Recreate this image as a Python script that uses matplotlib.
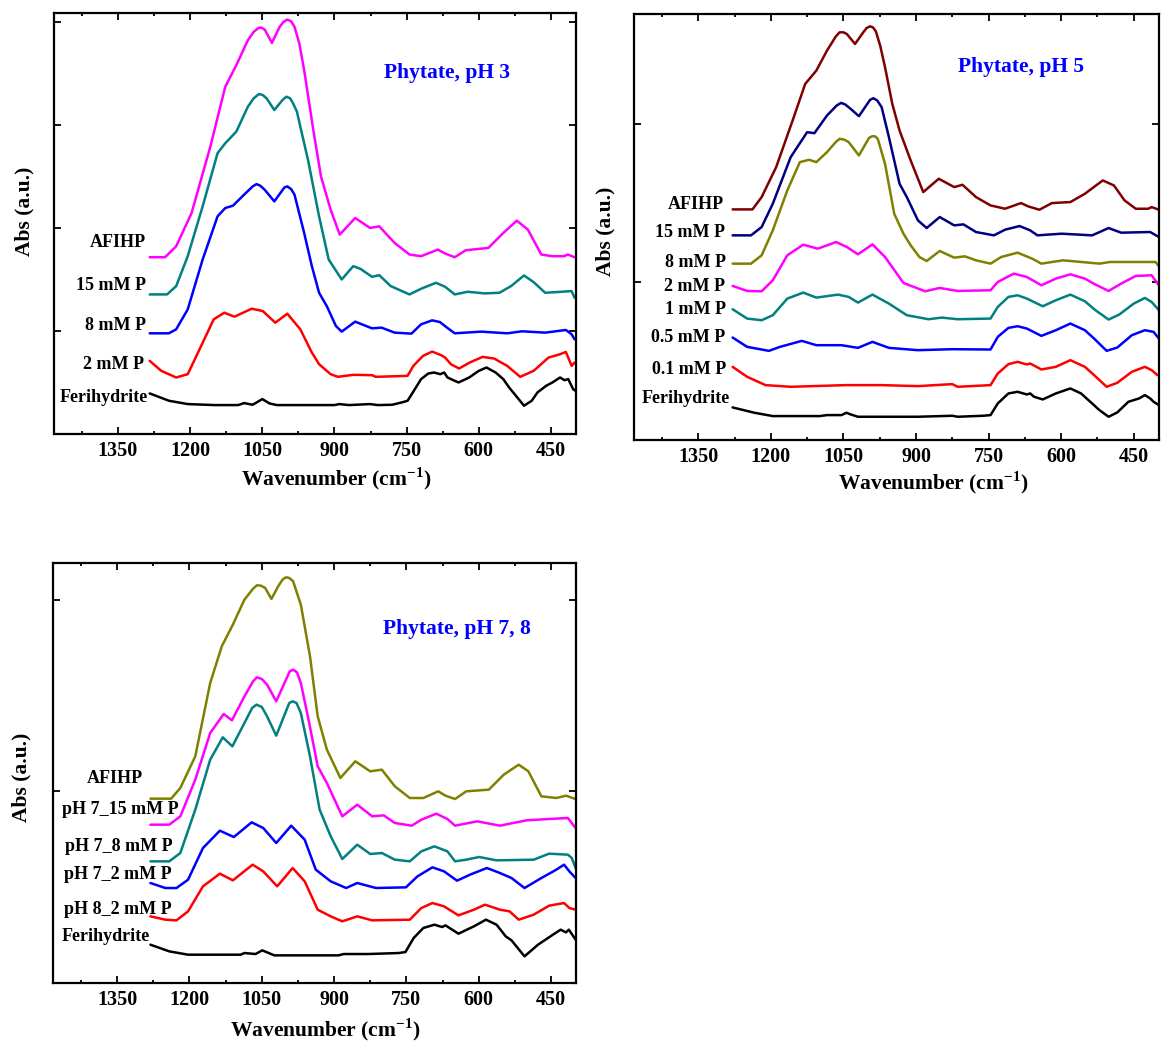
import matplotlib
matplotlib.use("Agg")
import matplotlib.pyplot as plt
from matplotlib.ticker import MultipleLocator

plt.rcParams['font.family'] = ['Liberation Serif', 'DejaVu Serif']
plt.rcParams['font.weight'] = 'bold'
plt.rcParams['mathtext.fontset'] = 'custom'
plt.rcParams['mathtext.rm'] = 'Liberation Serif:bold'
plt.rcParams['mathtext.bf'] = 'Liberation Serif:bold'

# ---- Phytate, pH 3 ----
ph3_ferri_wn = [1284, 1244, 1205, 1150, 1100, 1088, 1070, 1050, 1035, 1020, 950, 900, 890, 870, 826,
                810, 780, 760, 748, 735, 720, 705, 693, 680, 672, 665, 650, 642, 620, 600, 584, 565,
                549, 537, 520, 506, 490, 478, 460, 447, 431, 422, 414, 404, 399]
ph3_ferri_ab = [122, 100, 90, 87, 87, 93, 88, 105, 92, 87, 87, 87, 90, 87, 90,
                87, 88, 95, 100, 130, 165, 182, 185, 180, 185, 170, 160, 155, 170, 190, 200, 185,
                165, 140, 110, 85, 100, 125, 145, 155, 170, 162, 165, 135, 130]
ph3_2mm_wn = [1284, 1260, 1229, 1205, 1182, 1151, 1129, 1108, 1072, 1049, 1023, 998, 971, 947, 932, 908,
              893, 861, 822, 814, 748, 736, 716, 697, 678, 670, 658, 641, 619, 592, 568, 541, 514,
              486, 455, 431, 419, 407, 401]
ph3_2mm_ab = [220, 190, 170, 180, 250, 345, 365, 353, 377, 370, 335, 362, 315, 245, 210, 180,
              172, 178, 177, 172, 175, 205, 235, 248, 237, 230, 210, 197, 215, 232, 227, 205, 172,
              190, 230, 240, 247, 205, 215]
ph3_8mm_wn = [1284, 1244, 1229, 1205, 1174, 1143, 1127, 1111, 1088, 1070, 1062, 1054, 1045, 1025, 1010,
              1004, 998, 990, 983, 963, 947, 932, 916, 897, 885, 857, 822, 802, 775, 740, 720, 697,
              681, 666, 650, 595, 541, 510, 462, 419, 407, 401]
ph3_8mm_ab = [303, 303, 315, 375, 525, 655, 680, 687, 720, 745, 752, 747, 735, 700, 730,
              742, 745, 737, 720, 605, 505, 425, 385, 325, 308, 338, 318, 320, 305, 302, 330, 342,
              337, 320, 303, 308, 303, 309, 305, 313, 300, 285]
ph3_15mm_wn = [1284, 1248, 1229, 1205, 1174, 1143, 1127, 1104, 1080, 1068, 1057, 1049, 1041, 1025, 1008,
               1000, 992, 986, 978, 971, 955, 932, 912, 885, 861, 846, 822, 807, 783, 744, 720, 689,
               670, 650, 623, 588, 557, 533, 506, 486, 462, 439, 407, 401]
ph3_15mm_ab = [420, 420, 445, 535, 685, 845, 875, 910, 985, 1010, 1023, 1020, 1010, 975, 1005,
               1015, 1010, 995, 970, 925, 825, 655, 525, 465, 505, 497, 473, 478, 445, 420, 437, 455,
               443, 420, 428, 423, 425, 445, 477, 457, 425, 427, 430, 410]
ph3_afihp_wn = [1284, 1252, 1229, 1197, 1158, 1127, 1104, 1080, 1068, 1058, 1052, 1045, 1030, 1014, 1006,
                998, 990, 983, 973, 963, 954, 944, 928, 908, 889, 857, 826, 807, 775, 744, 720, 685,
                670, 650, 627, 580, 549, 521, 498, 470, 447, 423, 415, 401]
ph3_afihp_ab = [532, 532, 565, 665, 865, 1045, 1110, 1185, 1210, 1222, 1223, 1217, 1177, 1225, 1240,
                1247, 1242, 1225, 1175, 1095, 1010, 915, 775, 675, 600, 650, 620, 625, 575, 540, 535, 555,
                543, 532, 553, 560, 605, 642, 615, 540, 535, 535, 540, 532]

# ---- Phytate, pH 5 ----
ph5_ferri_wn = [1279, 1234, 1196, 1099, 1084, 1054, 1044, 1035, 1020, 896, 825, 814, 761, 746, 731,
                709, 690, 671, 664, 656, 638, 611, 581, 559, 536, 521, 502, 484, 461, 439, 427, 416,
                409, 398]
ph5_ferri_ab = [98, 82, 72, 72, 75, 75, 82, 77, 70, 70, 73, 70, 73, 75, 110,
                140, 145, 137, 140, 130, 122, 140, 155, 140, 110, 90, 70, 83, 115, 125, 135, 125,
                115, 105]
ph5_01mm_wn = [1279, 1249, 1211, 1159, 1046, 971, 896, 825, 814, 746, 731, 709, 690, 671, 664,
               641, 611, 581, 551, 532, 506, 484, 454, 427, 413, 401]
ph5_01mm_ab = [220, 190, 165, 160, 165, 165, 162, 168, 160, 165, 200, 228, 235, 227, 230,
               212, 220, 240, 220, 195, 160, 172, 205, 220, 210, 195]
ph5_05mm_wn = [1279, 1249, 1204, 1181, 1136, 1106, 1054, 1020, 990, 956, 896, 825, 746, 731, 709,
               690, 671, 641, 611, 581, 551, 532, 506, 484, 454, 427, 409, 398]
ph5_05mm_ab = [308, 280, 268, 280, 298, 285, 285, 277, 295, 277, 270, 273, 272, 310, 337,
               342, 335, 313, 330, 350, 330, 305, 268, 278, 315, 330, 325, 305]
ph5_1mm_wn = [1279, 1249, 1219, 1196, 1166, 1133, 1106, 1061, 1039, 1020, 990, 956, 919, 874, 847,
              814, 746, 731, 709, 690, 671, 638, 611, 581, 551, 529, 502, 480, 450, 427, 413, 398]
ph5_1mm_ab = [393, 365, 360, 375, 425, 443, 428, 437, 430, 413, 437, 410, 375, 363, 368,
              363, 365, 400, 430, 435, 425, 402, 420, 437, 417, 390, 362, 377, 410, 427, 415, 390]
ph5_2mm_wn = [1279, 1249, 1219, 1196, 1166, 1133, 1103, 1065, 1043, 1020, 990, 964, 926, 881, 851,
              814, 746, 731, 698, 671, 641, 611, 581, 551, 529, 502, 476, 446, 413, 398]
ph5_2mm_ab = [463, 448, 447, 480, 555, 587, 575, 595, 580, 558, 588, 550, 472, 447, 457,
              448, 450, 475, 500, 490, 465, 485, 498, 485, 467, 448, 470, 493, 495, 465]
ph5_8mm_wn = [1279, 1241, 1219, 1196, 1166, 1140, 1121, 1106, 1084, 1066, 1058, 1049, 1039, 1018, 997,
              990, 984, 979, 964, 945, 926, 911, 893, 878, 851, 821, 799, 776, 746, 724, 690, 660,
              641, 596, 521, 499, 446, 405, 398]
ph5_8mm_ab = [530, 530, 555, 630, 750, 835, 842, 835, 865, 895, 905, 903, 895, 855, 908,
              913, 912, 905, 830, 680, 620, 585, 550, 538, 568, 548, 552, 540, 530, 550, 563, 545,
              530, 540, 530, 535, 535, 535, 522]
ph5_15mm_wn = [1279, 1241, 1219, 1196, 1159, 1125, 1110, 1084, 1064, 1055, 1046, 1035, 1018, 995, 988,
               980, 971, 956, 934, 919, 896, 878, 851, 821, 802, 776, 739, 716, 686, 664, 649, 599,
               536, 502, 476, 416, 398]
ph5_15mm_ab = [615, 615, 640, 710, 850, 925, 922, 975, 1005, 1013, 1008, 995, 973, 1022, 1027,
               1020, 1000, 910, 770, 730, 660, 637, 670, 645, 648, 625, 615, 632, 643, 630, 615, 620,
               615, 637, 623, 625, 610]
ph5_afihp_wn = [1279, 1238, 1219, 1189, 1155, 1129, 1106, 1084, 1066, 1058, 1050, 1043, 1026, 1009, 1002,
                995, 989, 983, 974, 964, 949, 934, 911, 885, 853, 821, 804, 776, 746, 716, 683, 668,
                645, 619, 581, 551, 514, 491, 469, 446, 420, 413, 398]
ph5_afihp_ab = [693, 693, 730, 820, 960, 1070, 1110, 1170, 1212, 1225, 1225, 1220, 1190, 1225, 1238,
                1243, 1240, 1228, 1185, 1120, 1010, 930, 840, 745, 785, 760, 767, 730, 705, 695, 712, 702,
                692, 712, 715, 740, 780, 765, 720, 695, 695, 700, 692]

# ---- Phytate, pH 7, 8 ----
ph78_ferri_wn = [1281, 1242, 1203, 1094, 1086, 1063, 1049, 1024, 891, 880, 829, 766, 752, 735, 715,
                 692, 676, 669, 642, 610, 585, 563, 544, 532, 505, 477, 446, 430, 419, 413, 399]
ph78_ferri_ab = [115, 95, 85, 85, 90, 87, 98, 83, 83, 87, 87, 90, 93, 135, 165,
                 175, 168, 173, 148, 170, 190, 175, 140, 128, 80, 115, 145, 160, 152, 160, 130]
ph8_2mm_wn = [1281, 1250, 1227, 1203, 1172, 1137, 1110, 1069, 1047, 1018, 986, 961, 934, 907, 883,
              852, 821, 743, 719, 696, 672, 642, 610, 587, 556, 536, 517, 486, 454, 423, 412, 399]
ph8_2mm_ab = [200, 190, 188, 215, 290, 328, 308, 355, 335, 290, 345, 305, 220, 200, 185,
              200, 188, 190, 225, 240, 230, 203, 220, 235, 220, 215, 190, 205, 232, 240, 225, 220]
ph7_2mm_wn = [1281, 1250, 1227, 1203, 1172, 1137, 1108, 1071, 1047, 1020, 989, 961, 938, 907, 875,
              852, 813, 751, 727, 696, 672, 645, 618, 583, 556, 532, 505, 470, 439, 423, 412, 399]
ph7_2mm_ab = [300, 285, 285, 310, 405, 457, 438, 482, 465, 420, 472, 430, 340, 305, 285,
              300, 285, 287, 320, 347, 335, 307, 325, 345, 330, 315, 285, 315, 340, 355, 335, 315]
ph7_8mm_wn = [1281, 1242, 1219, 1188, 1157, 1131, 1111, 1086, 1070, 1061, 1050, 1039, 1020, 993, 986,
              978, 969, 950, 930, 907, 883, 852, 825, 801, 774, 743, 719, 692, 665, 649, 626, 599,
              563, 486, 454, 415, 407, 399]
ph7_8mm_ab = [365, 365, 390, 520, 670, 737, 710, 780, 825, 835, 828, 800, 742, 840, 845,
              840, 810, 680, 520, 440, 372, 415, 387, 390, 370, 365, 395, 410, 395, 365, 370, 378,
              368, 370, 388, 385, 375, 345]
ph7_15mm_wn = [1281, 1242, 1219, 1188, 1157, 1129, 1112, 1086, 1068, 1060, 1050, 1039, 1020, 992, 985,
               977, 969, 953, 934, 915, 883, 852, 821, 797, 774, 739, 719, 688, 665, 649, 603, 556,
               501, 454, 415, 399]
ph7_15mm_ab = [475, 475, 500, 610, 750, 807, 788, 860, 905, 917, 912, 895, 845, 935, 940,
               932, 900, 790, 650, 600, 500, 535, 500, 503, 480, 472, 490, 508, 492, 472, 485, 472,
               488, 492, 495, 465]
ph78_afihp_wn = [1281, 1238, 1219, 1188, 1157, 1133, 1110, 1086, 1068, 1060, 1052, 1043, 1030, 1016, 1007,
                 1000, 993, 985, 969, 950, 934, 915, 887, 856, 825, 801, 774, 743, 715, 684, 669, 649,
                 626, 579, 548, 517, 497, 470, 439, 419, 399]
ph78_afihp_ab = [553, 553, 585, 680, 900, 1010, 1075, 1150, 1183, 1193, 1192, 1185, 1152, 1190, 1210,
                 1217, 1215, 1205, 1135, 980, 800, 700, 615, 665, 635, 640, 590, 555, 555, 575, 562, 552,
                 575, 580, 625, 655, 635, 560, 555, 562, 552]

BLACK, RED, BLUE, TEAL, MAGENTA = '#000000', '#ff0000', '#0000ff', '#008080', '#ff00ff'
NAVY, OLIVE, MAROON = '#000080', '#808000', '#800000'

# (wavenumbers, absorbance, colour, label, label x, label y)
panels = [
    dict(rect=[0.0465, 0.5851, 0.4496, 0.4025], ylim=1267, yticks=[310, 620, 930, 1240],
         title="Phytate, pH 3", title_xy=(666, 1087), ylab_xy=(-0.056, 0.53), xlab_xy=(0.54, -0.105),
         curves=[
             (ph3_ferri_wn, ph3_ferri_ab, BLACK, "Ferihydrite", 1287, 110),
             (ph3_2mm_wn, ph3_2mm_ab, RED, "2 mM P", 1295, 208),
             (ph3_8mm_wn, ph3_8mm_ab, BLUE, "8 mM P", 1291, 327),
             (ph3_15mm_wn, ph3_15mm_ab, TEAL, "15 mM P", 1291, 448),
             (ph3_afihp_wn, ph3_afihp_ab, MAGENTA, "AFIHP", 1291, 577),
         ]),
    dict(rect=[0.5460, 0.5793, 0.4522, 0.4073], ylim=1280, yticks=[475, 950],
         title="Phytate, pH 5", title_xy=(682, 1120), ylab_xy=(-0.055, 0.49), xlab_xy=(0.57, -0.099),
         curves=[
             (ph5_ferri_wn, ph5_ferri_ab, BLACK, "Ferihydrite", 1285, 125),
             (ph5_01mm_wn, ph5_01mm_ab, RED, "0.1 mM P", 1292, 213),
             (ph5_05mm_wn, ph5_05mm_ab, BLUE, "0.5 mM P", 1294, 308),
             (ph5_1mm_wn, ph5_1mm_ab, TEAL, "1 mM P", 1292, 392),
             (ph5_2mm_wn, ph5_2mm_ab, MAGENTA, "2 mM P", 1294, 460),
             (ph5_8mm_wn, ph5_8mm_ab, OLIVE, "8 mM P", 1292, 533),
             (ph5_15mm_wn, ph5_15mm_ab, NAVY, "15 mM P", 1294, 623),
             (ph5_afihp_wn, ph5_afihp_ab, MAROON, "AFIHP", 1297, 708),
         ]),
    dict(rect=[0.0457, 0.0602, 0.4505, 0.4016], ylim=1260, yticks=[575, 1150],
         title="Phytate, pH 7, 8", title_xy=(645, 1063), ylab_xy=(-0.061, 0.49), xlab_xy=(0.52, -0.112),
         curves=[
             (ph78_ferri_wn, ph78_ferri_ab, BLACK, "Ferihydrite", 1283, 140),
             (ph8_2mm_wn, ph8_2mm_ab, RED, "pH 8_2 mM P", 1238, 222),
             (ph7_2mm_wn, ph7_2mm_ab, BLUE, "pH 7_2 mM P", 1238, 325),
             (ph7_8mm_wn, ph7_8mm_ab, TEAL, "pH 7_8 mM P", 1236, 410),
             (ph7_15mm_wn, ph7_15mm_ab, MAGENTA, "pH 7_15 mM P", 1223, 522),
             (ph78_afihp_wn, ph78_afihp_ab, OLIVE, "AFIHP", 1297, 612),
         ]),
]

fig = plt.figure(figsize=(11.61, 10.46), dpi=100)

for p in panels:
    ax = fig.add_axes(p['rect'])
    for wn, ab, color, label, lx, ly in p['curves']:
        ax.plot(wn, ab, color=color, lw=1.8, solid_joinstyle='round', solid_capstyle='round')
        ax.text(lx, ly, label, ha='right', va='center', fontsize=13, fontweight='bold', zorder=5)
    ax.text(*p['title_xy'], p['title'], color=BLUE, ha='center', va='center',
            fontsize=15.5, fontweight='bold')

    ax.set_xlim(1483, 398)
    ax.set_ylim(0, p['ylim'])
    ax.xaxis.set_major_locator(MultipleLocator(150))
    ax.xaxis.set_minor_locator(MultipleLocator(75))
    ax.set_yticks(p['yticks'])
    ax.set_yticklabels([])
    ax.tick_params(which='both', direction='in', top=True, right=True, width=1.3)
    ax.tick_params(which='major', length=5, labelsize=14.5, pad=5)
    ax.tick_params(which='minor', length=2.5)
    for lab in ax.get_xticklabels():
        lab.set_fontweight('bold')
    for s in ax.spines.values():
        s.set_linewidth(1.6)

    ax.set_xlabel(r"Wavenumber (cm$^{-1}$)", fontsize=15.5, fontweight='bold', va='center')
    ax.xaxis.set_label_coords(*p['xlab_xy'])
    ax.set_ylabel("Abs (a.u.)", fontsize=15.5, fontweight='bold', va='center')
    ax.yaxis.set_label_coords(*p['ylab_xy'])

fig.savefig("out.png", dpi=100)
